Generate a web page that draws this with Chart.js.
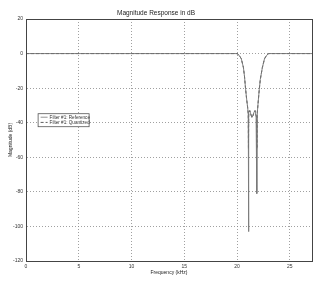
<!DOCTYPE html>
<html><head><meta charset="utf-8">
<script src="https://cdn.jsdelivr.net/npm/chart.js@4/dist/chart.umd.min.js"></script>
<style>html,body{margin:0;padding:0;background:#fff}#wrap{width:331px;height:283px}</style>
</head><body><div id="wrap"><canvas id="c" width="331" height="283"></canvas></div>
<script>
const titleText = "Magnitude Response in dB";
const xTitle = "Frequency (kHz)";
const yTitle = "Magnitude (dB)";
const seriesNames = ["Filter #1: Reference", "Filter #1: Quantized"];
const xTicks = [0, 5, 10, 15, 20, 25];
const yTicks = [20, 0, -20, -40, -60, -80, -100, -120];

// frequency (kHz) and magnitude (dB)
const freqRef = [0,2,4,6,8,10,12,14,16,18,19,20.0,20.2,20.4,20.6,20.7,20.8,20.9,21.0,21.06,21.08,21.1,21.12,21.2,21.3,21.4,21.5,21.6,21.7,21.8,21.86,21.88,21.9,21.92,22.0,22.1,22.2,22.4,22.6,22.8,23.0,24,25,26,27.1];
const magRef  = [0,0,0,0,0,0,0,0,0,0,0,0,-1,-3,-8,-13,-20,-26,-31,-35,-103,-36,-34,-33,-35,-37,-36,-34,-33,-36,-37,-81,-37,-34,-28,-21,-15,-8,-3,-1,0,0,0,0,0];
const freqQ = [0,2,4,6,8,10,12,14,16,18,19,20.0,20.2,20.4,20.6,20.7,20.8,20.9,21.0,21.06,21.08,21.1,21.12,21.2,21.3,21.4,21.5,21.6,21.7,21.8,21.86,21.88,21.9,21.92,22.0,22.1,22.2,22.4,22.6,22.8,23.0,24,25,26,27.1];
const magQ  = [0,0,0,0,0,0,0,0,0,0,0,0,-1,-3,-8,-13,-20,-26,-31,-35,-55,-36,-34,-33,-35,-37,-36,-34,-33,-36,-37,-55,-37,-34,-28,-21,-15,-8,-3,-1,0,0,0,0,0];

const FONT = "'Liberation Sans', Arial, sans-serif";

const legendBox = {
  id: 'legendBox',
  afterDatasetsDraw(chart) {
    const ctx = chart.ctx, xs = chart.scales.x, ys = chart.scales.y;
    const left = xs.getPixelForValue(1.1), top = ys.getPixelForValue(-34.5);
    const w = 51, h = 13;
    ctx.save();
    ctx.fillStyle = '#fff';
    ctx.fillRect(left, top, w, h);
    ctx.strokeStyle = '#555'; ctx.lineWidth = 0.8;
    ctx.strokeRect(left + 0.5, top + 0.5, w, h);
    ctx.font = '4.6px ' + FONT; ctx.textBaseline = 'middle'; ctx.fillStyle = '#333';
    chart.data.datasets.forEach((ds, i) => {
      const y = top + 4 + i * 5.2;
      ctx.beginPath(); ctx.strokeStyle = ds.borderColor; ctx.lineWidth = 0.8;
      ctx.setLineDash(ds.borderDash || []);
      ctx.moveTo(left + 3, y); ctx.lineTo(left + 10, y); ctx.stroke();
      ctx.setLineDash([]);
      ctx.fillText(ds.label, left + 12, y + 0.3);
    });
    ctx.restore();
  }
};

new Chart(document.getElementById('c'), {
  type: 'line',
  data: {
    datasets: [
      { label: seriesNames[0], data: freqRef.map((f, i) => ({x: f, y: magRef[i]})),
        borderColor: '#777', borderWidth: 0.9, pointRadius: 0, tension: 0, fill: false },
      { label: seriesNames[1], data: freqQ.map((f, i) => ({x: f, y: magQ[i]})),
        borderColor: '#333', borderWidth: 0.9, borderDash: [3, 2], pointRadius: 0, tension: 0, fill: false }
    ]
  },
  options: {
    responsive: false, animation: false, devicePixelRatio: 1,
    layout: { padding: { top: 0, right: 19, bottom: 0, left: 0 } },
    plugins: {
      legend: { display: false }, tooltip: { enabled: false },
      title: { display: true, text: titleText, color: '#222',
        font: { family: FONT, size: 6.5, weight: 'normal' }, padding: { top: 9, bottom: 2.2 } }
    },
    scales: {
      x: {
        type: 'linear', min: 0, max: 27.1,
        afterBuildTicks: s => { s.ticks = xTicks.map(v => ({value: v})); },
        afterFit: s => { s.height = 22; },
        ticks: { color: '#333', font: { family: FONT, size: 5 }, padding: 3, maxRotation: 0 },
        grid: { color: '#888', lineWidth: 0.8, drawTicks: false },
        border: { display: true, color: '#444', width: 1, dash: [1, 2] },
        title: { display: true, text: xTitle, color: '#222', font: { family: FONT, size: 5 }, padding: { top: 0, bottom: 7 } }
      },
      y: {
        type: 'linear', min: -120, max: 20,
        afterBuildTicks: s => { s.ticks = yTicks.map(v => ({value: v})); },
        afterFit: s => { s.width = 26; },
        ticks: { color: '#333', font: { family: FONT, size: 5 }, padding: 3 },
        grid: { color: '#888', lineWidth: 0.8, drawTicks: false },
        border: { display: true, color: '#444', width: 1, dash: [1, 2] },
        title: { display: true, text: yTitle, color: '#222', font: { family: FONT, size: 5 }, padding: { top: 8, bottom: 0 } }
      }
    }
  },
  plugins: [legendBox, {
    id: 'frame',
    afterDraw(chart) {
      const a = chart.chartArea, ctx = chart.ctx;
      ctx.save(); ctx.strokeStyle = '#444'; ctx.lineWidth = 1;
      ctx.strokeRect(a.left + 0.5, a.top + 0.5, a.right - a.left, a.bottom - a.top);
      ctx.restore();
    }
  }]
});
</script></body></html>
